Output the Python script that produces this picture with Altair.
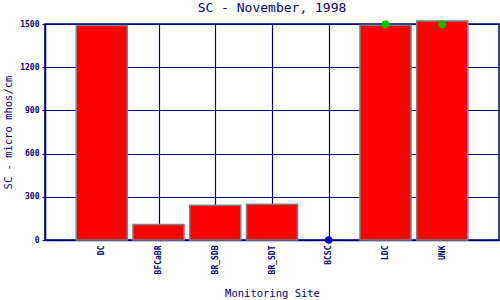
import altair as alt
import pandas as pd

sites = ["DC", "BFCaBR", "BR_SDB", "BR_SDT", "BCSC", "LDC", "UNK"]
bar_sites = ["DC", "BFCaBR", "BR_SDB", "BR_SDT", "LDC", "UNK"]
bar_values = [1490, 107, 241, 248, 1492, 1520]
green_sites = ["LDC", "UNK"]
green_values = [1498, 1498]
blue_sites = ["BCSC"]
blue_values = [0]
y_ticks = [0, 300, 600, 900, 1200, 1500]

pos = {s: i + 1 for i, s in enumerate(sites)}
bars = pd.DataFrame({"site": bar_sites, "value": bar_values,
                     "pos": [pos[s] for s in bar_sites]})
greens = pd.DataFrame({"site": green_sites, "value": green_values,
                       "pos": [pos[s] for s in green_sites]})
blues = pd.DataFrame({"site": blue_sites, "value": blue_values,
                      "pos": [pos[s] for s in blue_sites]})

NAVY = "#000080"
FONT = "DejaVu Sans Mono"
label_expr = "[" + ",".join(f"'{s}'" for s in sites) + "][datum.value - 1]"

x_enc = alt.X("pos:Q", scale=alt.Scale(domain=[0, len(sites) + 1], nice=False, zero=False,
                                       padding=0),
              axis=alt.Axis(values=list(range(1, len(sites) + 1)), labelExpr=label_expr,
                            labelAngle=-90, title="Monitoring Site", ticks=False,
                            labelPadding=5, titlePadding=15))
y_enc = alt.Y("value:Q", scale=alt.Scale(domain=[0, 1500], nice=False),
              axis=alt.Axis(values=y_ticks, format="d", title="SC - micro mhos/cm",
                            ticks=True, tickSize=3, tickColor=NAVY, tickWidth=1.2,
                            labelPadding=3, titlePadding=6))

bar_layer = alt.Chart(bars).mark_bar(size=51, color="#ff0000", stroke="#808080",
                                     strokeWidth=1.5, clip=False).encode(x=x_enc, y=y_enc)
green_layer = alt.Chart(greens).mark_point(filled=True, size=60, color="#00c000",
                                           opacity=1, clip=False).encode(x=x_enc, y=y_enc)
blue_layer = alt.Chart(blues).mark_point(filled=True, size=55, color="#0000cc",
                                         opacity=1, clip=False).encode(x=x_enc, y=y_enc)

chart = (alt.layer(bar_layer, green_layer, blue_layer)
         .properties(width=454, height=216,
                     title=alt.TitleParams("SC - November, 1998", font=FONT, fontSize=13,
                                           fontWeight="normal", color=NAVY, offset=5),
                     autosize=alt.AutoSizeParams(type="none"),
                     padding={"left": 45, "top": 24, "right": 1, "bottom": 60},
                     background="white")
         .configure_view(stroke=NAVY, strokeWidth=1.5)
         .configure_axis(grid=True, gridColor=NAVY, gridOpacity=1, gridWidth=1.2,
                         domainColor=NAVY, domainWidth=1.5, labelColor=NAVY, labelFont=FONT,
                         labelFontSize=8, labelFontWeight="bold", titleColor=NAVY,
                         titleFont=FONT, titleFontSize=10.5, titleFontWeight="normal"))

chart.save("out.html", embed_options={"renderer": "svg", "actions": False})
